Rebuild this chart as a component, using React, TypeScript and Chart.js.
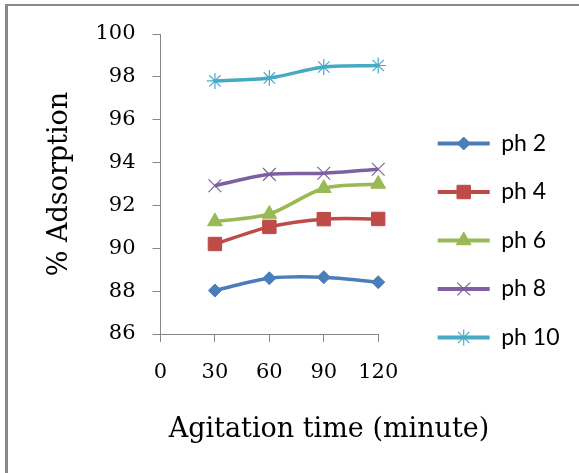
import React, { useEffect, useRef } from 'react';
import { Chart, registerables } from 'chart.js';
import { drawPoint } from 'chart.js/helpers';

Chart.register(...registerables);

// ---- data ----
const xValues = [30, 60, 90, 120];
const seriesNames = ['ph 2', 'ph 4', 'ph 6', 'ph 8', 'ph 10'];
const ph2 = [88.03, 88.6, 88.65, 88.42];
const ph4 = [90.2, 91.0, 91.36, 91.37];
const ph6 = [91.25, 91.6, 92.8, 93.0];
const ph8 = [92.92, 93.45, 93.5, 93.69];
const ph10 = [97.81, 97.95, 98.46, 98.53];
const seriesValues = [ph2, ph4, ph6, ph8, ph10];
const xTickMin = 0;
const xTickMax = 120;
const xTickStep = 30;
const yTickMin = 86;
const yTickMax = 100;
const yTickStep = 2;
const xTitle = 'Agitation time (minute)';
const yTitle = '% Adsorption';

// ---- styles ----
const colors = ['#4A7EBB', '#BE4B48', '#98B954', '#7D60A0', '#46AAC5'];
const pointStyles = ['rectRot', 'rect', 'triangle', 'crossRot', 'star'];
const pointRadii = [6.5, 9.5, 8.5, 9, 8];
const pointBorderWidths = [1, 1, 1, 1.2, 1.2];
const axisColor = '#868686';
const serif = '"DejaVu Serif", serif';
const legendFontSize = 23;
const legendBoxWidth = 52;

const legendMarkers = {
  id: 'legendMarkers',
  afterDraw(chart: any) {
    const legend = chart.legend;
    if (!legend || !legend.legendItems) return;
    const ctx = chart.ctx;
    legend.legendItems.forEach((item: any, i: number) => {
      const hb = legend.legendHitBoxes[i];
      const ds = chart.data.datasets[item.datasetIndex];
      const cx = hb.left + legendBoxWidth / 2;
      const cy = hb.top + legendFontSize / 2;
      ctx.save();
      ctx.fillStyle = ds.pointBackgroundColor;
      ctx.strokeStyle = ds.pointBorderColor;
      ctx.lineWidth = ds.pointBorderWidth;
      drawPoint(ctx, { pointStyle: ds.pointStyle, radius: ds.pointRadius, rotation: 0, borderWidth: ds.pointBorderWidth }, cx, cy);
      ctx.restore();
    });
  },
};

const xTitlePlugin = {
  id: 'xTitleText',
  afterDraw(chart: any) {
    const ctx = chart.ctx;
    ctx.save();
    ctx.font = '27px ' + serif;
    ctx.fillStyle = '#000';
    ctx.textAlign = 'center';
    ctx.textBaseline = 'alphabetic';
    ctx.fillText(xTitle, 329, 437);
    ctx.restore();
  },
};

export default function App() {
  const canvasRef = useRef<HTMLCanvasElement | null>(null);

  useEffect(() => {
    document.body.style.margin = '0';
    const canvas = canvasRef.current;
    if (!canvas) return;
    const datasets = seriesNames.map((name, i) => ({
      label: name,
      data: xValues.map((x, j) => ({ x, y: seriesValues[i][j] })),
      borderColor: colors[i],
      backgroundColor: colors[i],
      borderWidth: 3.5,
      tension: 0.3,
      pointStyle: pointStyles[i],
      pointRadius: pointRadii[i],
      pointHoverRadius: pointRadii[i],
      pointBackgroundColor: colors[i],
      pointBorderColor: colors[i],
      pointBorderWidth: pointBorderWidths[i],
      xAxisID: 'x',
      yAxisID: 'y',
      clip: false as any,
    }));

    const chart = new Chart(canvas, {
      type: 'line',
      data: { datasets },
      plugins: [legendMarkers, xTitlePlugin],
      options: {
        animation: false,
        responsive: false,
        maintainAspectRatio: false,
        devicePixelRatio: 1,
        layout: { padding: { top: 34, bottom: 26, left: 0, right: 9.5 } },
        plugins: {
          tooltip: { enabled: false },
          legend: {
            position: 'right',
            align: 'center',
            maxWidth: 165,
            labels: {
              boxWidth: legendBoxWidth,
              boxHeight: 4,
              padding: 25.5,
              color: '#000',
              font: { family: 'Lato', size: legendFontSize, lineHeight: 1 },
              generateLabels: (ch: any) =>
                ch.data.datasets.map((ds: any, i: number) => ({
                  text: ds.label,
                  fillStyle: ds.borderColor,
                  strokeStyle: ds.borderColor,
                  lineWidth: 0,
                  hidden: false,
                  datasetIndex: i,
                  fontColor: '#000',
                })),
            },
          },
        },
        scales: {
          x: {
            type: 'linear',
            position: 'bottom',
            min: xTickMin,
            max: xTickMax,
            afterFit: (s: any) => { s.height = 113; },
            ticks: {
              stepSize: xTickStep,
              color: '#000',
              padding: 18,
              maxRotation: 0,
              font: { family: serif, size: 21 },
            },
            grid: { display: true, drawOnChartArea: false, drawTicks: true, tickLength: 8, color: axisColor },
            border: { display: true, color: axisColor, width: 1 },
          },
          y: {
            type: 'linear',
            position: 'left',
            min: yTickMin,
            max: yTickMax,
            afterFit: (s: any) => { s.width = 160.5; },
            ticks: {
              stepSize: yTickStep,
              color: '#000',
              padding: 17,
              font: { family: serif, size: 21 },
            },
            grid: { display: true, drawOnChartArea: false, drawTicks: true, tickLength: 8, color: axisColor },
            border: { display: true, color: axisColor, width: 1 },
            title: {
              display: true,
              text: yTitle,
              color: '#000',
              font: { family: serif, size: 27 },
              padding: { top: 44, bottom: 0 },
            },
          },
          yGap: {
            type: 'linear',
            position: 'right',
            display: true,
            afterFit: (s: any) => { s.width = 34; },
            ticks: { display: false },
            grid: { display: false },
            border: { display: false },
          },
        },
      } as any,
    });
    return () => chart.destroy();
  }, []);

  return (
    <div style={{ position: 'relative', width: 579, height: 473, background: '#fff' }}>
      <div
        style={{
          position: 'absolute',
          left: 5,
          top: 4,
          right: 0,
          bottom: 0,
          borderLeft: '3px solid #888',
          borderTop: '2px solid #888',
        }}
      />
      <canvas
        ref={canvasRef}
        width={579}
        height={473}
        style={{ position: 'absolute', left: 0, top: 0, width: 579, height: 473 }}
      />
    </div>
  );
}
